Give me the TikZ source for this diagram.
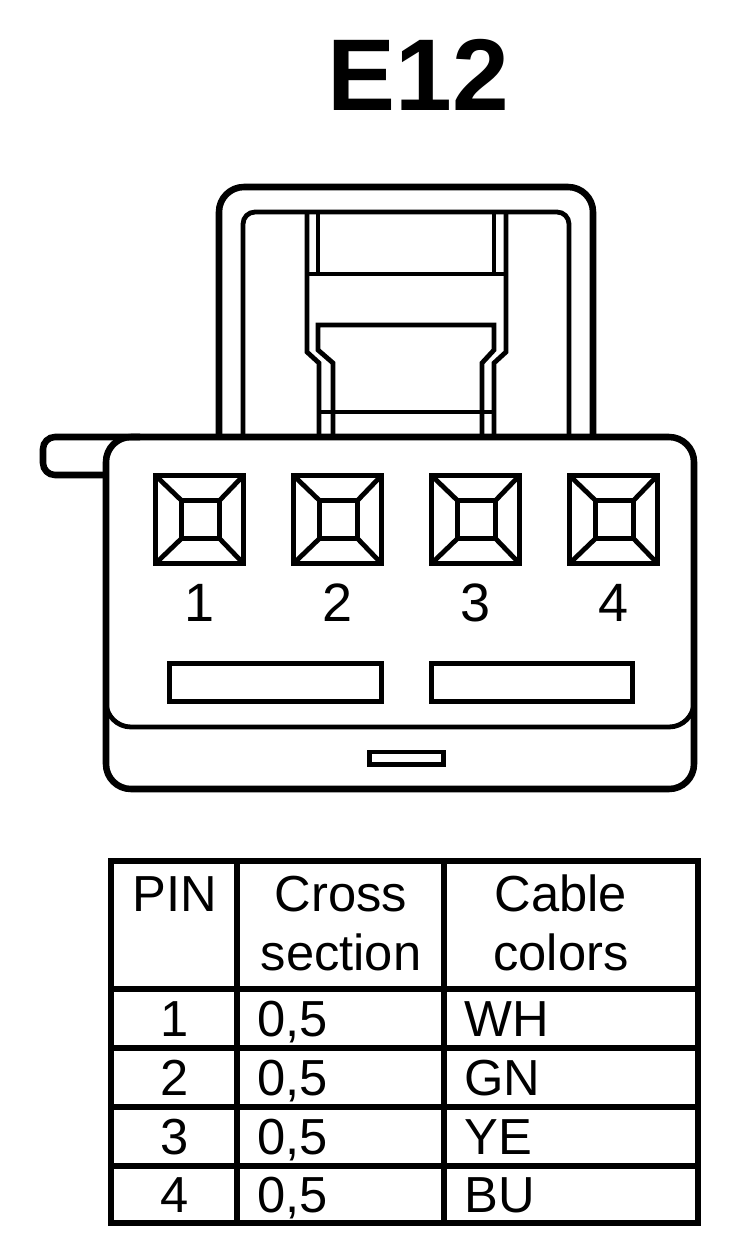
\documentclass[tikz,border=0pt]{standalone}
\usepackage{fontspec}
\setmainfont{Liberation Sans}
\tikzset{
 x=0.75pt,y=-0.75pt,
 thickln/.style={line width=4.9pt,line join=miter},
 thinln/.style={line width=3.6pt},
 midln/.style={line width=3.6pt},
 rowln/.style={line width=4.1pt},
 pinlabel/.style={inner sep=0pt,anchor=base,font=\fontsize{40.5pt}{40.5pt}\selectfont},
 cell/.style={inner sep=0pt,anchor=base,font=\fontsize{38pt}{38pt}\selectfont},
 cellleft/.style={cell,anchor=base west},
}
\begin{document}
\begin{tikzpicture}
\useasboundingbox (0,0) rectangle (752,1254);
\node[inner sep=0pt,anchor=base,font=\fontsize{76.5pt}{76.5pt}\bfseries\selectfont] (title) at (418,110.5) {E12};
% handle
\draw[thickln,rounded corners=18.75pt] (219,437) -- (219,187) -- (593,187) -- (593,437);
\draw[thinln,rounded corners=9pt] (243,437) -- (243,212) -- (569,212) -- (569,437);
\draw[thinln] (318,212) -- (318,274) (494,212) -- (494,274) (307,274) -- (506,274) (319,412) -- (494,412);
\draw[thinln] (307,212) -- (307,352) -- (319,363) -- (319,437);
\draw[thinln] (506,212) -- (506,352) -- (494,363) -- (494,437);
\draw[thinln] (333,437) -- (333,363) -- (318,350) -- (318,325) -- (494,325) -- (494,350) -- (482,363) -- (482,437);
% tab
\draw[thickln,rounded corners=9pt] (106,475) -- (43,475) -- (43,437) -- (140,437);
% body
\draw[thickln,rounded corners=18.75pt] (106,500) -- (106,437) -- (694,437) -- (694,789) -- (106,789) -- cycle;
\draw[thinln,rounded corners=18.75pt] (106,600) -- (106,727) -- (694,727) -- (694,600);
% pins
\foreach \px/\lab in {155.5/1,293.5/2,431.5/3,569.5/4}{
 \begin{scope}[shift={(\px,475.5)}]
  \draw[midln] (0,0) rectangle (88,88);
  \draw[midln] (26,25) rectangle (64,63);
  \draw[midln] (0,0) -- (26,25) (88,0) -- (64,25) (0,88) -- (26,63) (88,88) -- (64,63);
  \node[pinlabel] at (44.5,146) {\lab};
 \end{scope}
}
\draw[midln] (169.5,663.5) rectangle (381.5,701.5);
\draw[midln] (431.5,663.5) rectangle (632.5,701.5);
\draw[midln] (369.5,752) rectangle (443.5,764.5);
% table
\draw[thickln] (111,861) rectangle (698,1223);
\draw[thickln] (237,861) -- (237,1223) (444,861) -- (444,1223);
\draw[rowln] (111,989) -- (698,989) (111,1048) -- (698,1048) (111,1107) -- (698,1107) (111,1166) -- (698,1166);
\node[cell] at (175,911) {PIN};
\node[cell] at (341,911) {Cross};
\node[cell] at (341,970) {section};
\node[cell] at (561,911) {Cable};
\node[cell] at (561,970) {colors};
\foreach \yy/\n/\c in {1036/1/WH,1095/2/GN,1154/3/YE,1212/4/BU}{
 \node[cell] at (175,\yy) {\n};
 \node[cellleft] at (257,\yy) {0,5};
 \node[cellleft] at (464,\yy) {\c};
}
\end{tikzpicture}
\end{document}
